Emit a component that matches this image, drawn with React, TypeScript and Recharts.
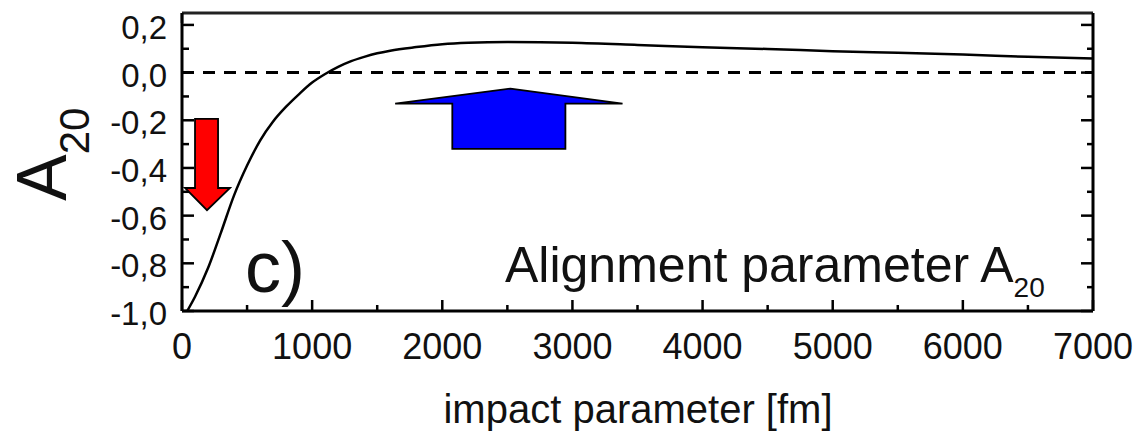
import React from 'react';
import { LineChart, Line, XAxis, YAxis, ReferenceLine, ReferenceArea, Customized } from 'recharts';

// curve: impact parameter [fm] vs alignment parameter A20
const impactParameter = [40, 100, 200, 300, 400, 500, 600, 700, 800, 900, 1000, 1100, 1200, 1300, 1400, 1500, 1600, 1800, 2000, 2200, 2500, 3000, 3500, 4000, 4500, 5000, 5500, 6000, 6500, 7000];
const alignmentA20 = [-1.0, -0.94, -0.82, -0.67, -0.515, -0.39, -0.285, -0.205, -0.143, -0.09, -0.042, -0.006, 0.024, 0.048, 0.066, 0.081, 0.092, 0.107, 0.119, 0.125, 0.128, 0.125, 0.116, 0.106, 0.099, 0.09, 0.083, 0.076, 0.066, 0.059];

const xTicks = [0, 500, 1000, 1500, 2000, 2500, 3000, 3500, 4000, 4500, 5000, 5500, 6000, 6500, 7000];
const yTicks = [-1.0, -0.9, -0.8, -0.7, -0.6, -0.5, -0.4, -0.3, -0.2, -0.1, 0.0, 0.1, 0.2];
const xDomain = [0, 7000];
const yDomain = [-1.0, 0.25];

// arrow outlines in data coordinates
const redArrowX = [100, 277, 277, 369, 192, 23, 100];
const redArrowY = [-0.194, -0.194, -0.484, -0.484, -0.577, -0.484, -0.484];
const blueArrowX = [2523, 3385, 2946, 2946, 2077, 2077, 1638];
const blueArrowY = [-0.067, -0.13, -0.13, -0.32, -0.32, -0.13, -0.13];

const panelLabel = 'c)';
const annotation = 'Alignment parameter A';
const annotationSub = '20';
const yLabel = 'A';
const yLabelSub = '20';
const xLabel = 'impact parameter [fm]';

const data = impactParameter.map((b, i) => ({ b, a: alignmentA20[i] }));

const FONT = '"Liberation Sans", Arial, Helvetica, sans-serif';

function arrowShape(xs: number[], ys: number[], fill: string) {
  const x1 = Math.min(...xs);
  const x2 = Math.max(...xs);
  const y1 = Math.min(...ys);
  const y2 = Math.max(...ys);
  return (props: any) => {
    const { x, y, width, height } = props;
    const pts = xs
      .map((vx, i) => {
        const px = x + ((vx - x1) / (x2 - x1)) * width;
        const py = y + ((y2 - ys[i]) / (y2 - y1)) * height;
        return `${px},${py}`;
      })
      .join(' ');
    return <polygon points={pts} fill={fill} stroke="#000" strokeWidth={1.8} strokeLinejoin="miter" />;
  };
}

const isMajorY = (v: number) => Math.round(v * 10) % 2 === 0;
const fmtY = (v: number) => v.toFixed(1).replace('.', ',');

const BottomTick = (props: any) => {
  const { x, y, payload } = props;
  const v = payload.value;
  const major = v % 1000 === 0;
  return (
    <g>
      <line x1={x} x2={x} y1={y} y2={y - (major ? 11 : 6)} stroke="#000" strokeWidth={2.5} />
      {major && (
        <text x={x} y={y + 48} textAnchor="middle" fontSize={36} fontFamily={FONT} fill="#111">
          {v}
        </text>
      )}
    </g>
  );
};

const TopTick = (props: any) => {
  const { x, y, payload } = props;
  const v = payload.value;
  const major = v % 1000 === 0;
  return <line x1={x} x2={x} y1={y} y2={y + (major ? 10 : 9)} stroke="#000" strokeWidth={2.5} />;
};

const LeftTick = (props: any) => {
  const { x, y, payload } = props;
  const v = payload.value;
  const major = isMajorY(v);
  return (
    <g>
      <line x1={x} x2={x + (major ? 12 : 7)} y1={y} y2={y} stroke="#000" strokeWidth={2.5} />
      {major && (
        <text x={x - 15} y={y + 14} textAnchor="end" fontSize={33} fontFamily={FONT} fill="#111">
          {fmtY(v)}
        </text>
      )}
    </g>
  );
};

const RightTick = (props: any) => {
  const { x, y, payload } = props;
  const v = payload.value;
  const major = isMajorY(v);
  return <line x1={x} x2={x - (major ? 12 : 6)} y1={y} y2={y} stroke="#000" strokeWidth={2.5} />;
};

const Texts = () => (
  <g fontFamily={FONT} fill="#111">
    <text x={245} y={292} fontSize={72}>{panelLabel}</text>
    <text x={505} y={282} fontSize={50}>
      {annotation}
      <tspan fontSize={28} dy={15}>{annotationSub}</tspan>
    </text>
    <text transform="translate(66,201) rotate(-90)" fontSize={70}>
      {yLabel}
      <tspan fontSize={42} dy={23}>{yLabelSub}</tspan>
    </text>
    <text x={638} y={423} textAnchor="middle" fontSize={40}>{xLabel}</text>
  </g>
);

export default function App() {
  return (
    <div style={{ position: 'absolute', left: 0, top: 0, width: 1142, height: 433, background: '#fff' }}>
      <LineChart width={1142} height={433} data={data} margin={{ top: 0, right: 0, bottom: 0, left: 0 }}>
        <XAxis
          dataKey="b"
          type="number"
          domain={xDomain}
          ticks={xTicks}
          interval={0}
          height={122}
          tickSize={0}
          tickMargin={0}
          tickLine={false}
          axisLine={{ stroke: '#000', strokeWidth: 3 }}
          tick={<BottomTick />}
          allowDataOverflow
        />
        <XAxis
          xAxisId="top"
          orientation="top"
          type="number"
          domain={xDomain}
          ticks={xTicks}
          interval={0}
          height={13}
          tickSize={0}
          tickMargin={0}
          tickLine={false}
          axisLine={{ stroke: '#222', strokeWidth: 3 }}
          tick={<TopTick />}
          allowDataOverflow
        />
        <YAxis
          type="number"
          domain={yDomain}
          ticks={yTicks}
          interval={0}
          width={182}
          tickSize={0}
          tickMargin={0}
          tickLine={false}
          axisLine={{ stroke: '#000', strokeWidth: 3 }}
          tick={<LeftTick />}
          allowDataOverflow
        />
        <YAxis
          yAxisId="right"
          orientation="right"
          type="number"
          domain={yDomain}
          ticks={yTicks}
          interval={0}
          width={49}
          tickSize={0}
          tickMargin={0}
          tickLine={false}
          axisLine={{ stroke: '#000', strokeWidth: 3 }}
          tick={<RightTick />}
          allowDataOverflow
        />
        <ReferenceLine y={0} stroke="#000" strokeWidth={3} strokeDasharray="12 9" />
        <Line dataKey="a" type="monotone" stroke="#000" strokeWidth={2.5} dot={false} isAnimationActive={false} />
        <ReferenceArea
          x1={Math.min(...redArrowX)}
          x2={Math.max(...redArrowX)}
          y1={Math.min(...redArrowY)}
          y2={Math.max(...redArrowY)}
          shape={arrowShape(redArrowX, redArrowY, '#ff0000')}
        />
        <ReferenceArea
          x1={Math.min(...blueArrowX)}
          x2={Math.max(...blueArrowX)}
          y1={Math.min(...blueArrowY)}
          y2={Math.max(...blueArrowY)}
          shape={arrowShape(blueArrowX, blueArrowY, '#0000ff')}
        />
        <Customized component={Texts} />
      </LineChart>
    </div>
  );
}
